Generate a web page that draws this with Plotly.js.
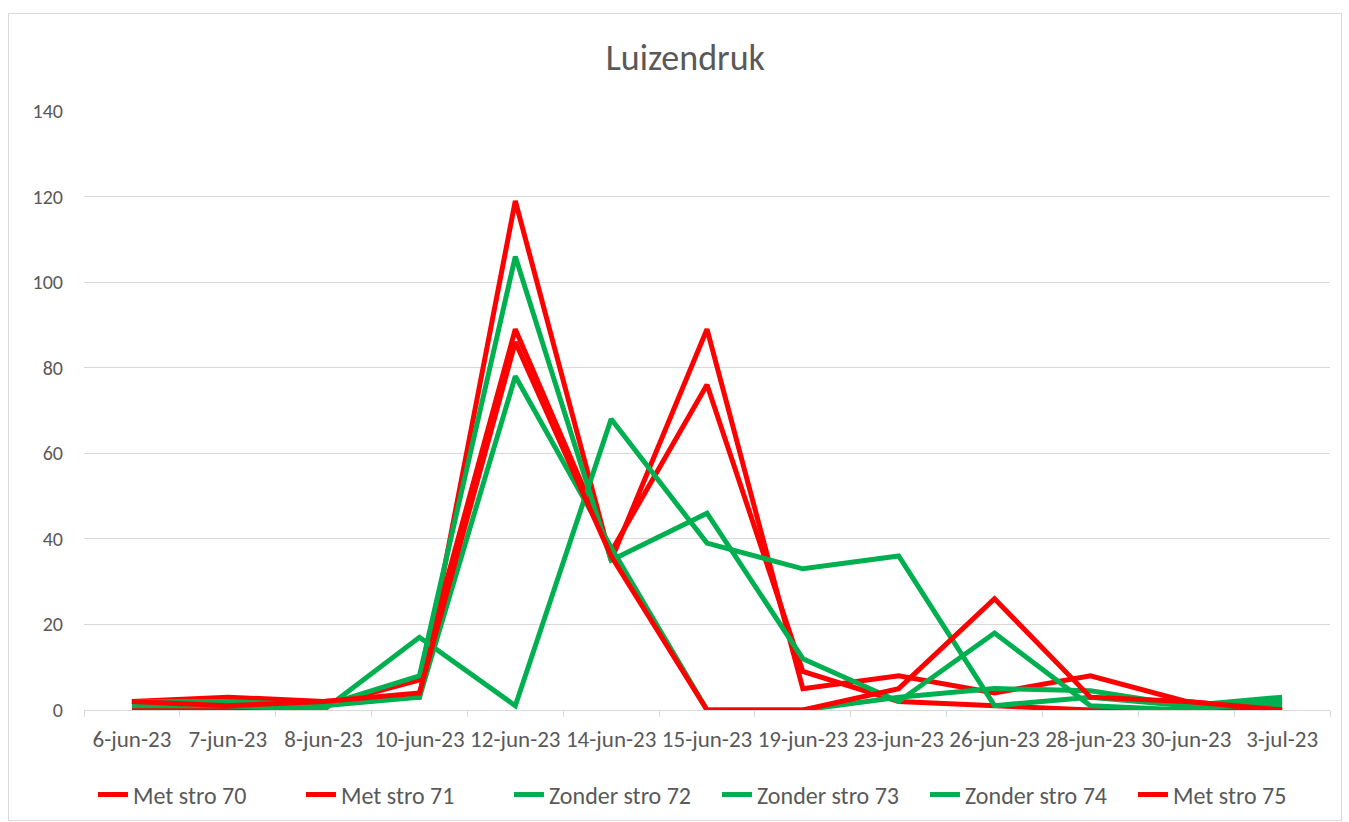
<!DOCTYPE html>
<html>
<head>
<meta charset="utf-8">
<script src="https://cdn.plot.ly/plotly-3.0.1.min.js"></script>
<style>
  html, body { margin: 0; padding: 0; background: #fff; }
  #chart { position: absolute; left: 0; top: 0; width: 1349px; height: 822px; }
  #frame { position: absolute; left: 8px; top: 13px; width: 1332px; height: 806px; border: 1px solid #d9d9d9; pointer-events: none; }
</style>
</head>
<body>
<div id="chart"></div>
<div id="frame"></div>
<script>
const dates = ["6-jun-23","7-jun-23","8-jun-23","10-jun-23","12-jun-23","14-jun-23","15-jun-23","19-jun-23","23-jun-23","26-jun-23","28-jun-23","30-jun-23","3-jul-23"];

const metStro70    = [2, 3, 2, 3, 119, 35, 89, 5, 8, 4, 8, 2, 0];
const metStro71    = [0, 0, 1, 7, 89, 37, 76, 9, 2, 1, 0, 0, 0];
const zonderStro72 = [2, 1, 0, 17, 1, 68, 39, 33, 36, 1, 3, 1, 1];
const zonderStro73 = [2, 2, 1, 8, 106, 35, 46, 12, 2, 18, 1, 0, 2];
const zonderStro74 = [1, 1, 1, 3, 78, 38, 0, 0, 3, 5, 4.5, 1, 3];
const metStro75    = [2, 1, 2, 4, 86, 36, 0, 0, 5, 26, 3, 2, 0];

const seriesNames = ["Met stro 70","Met stro 71","Zonder stro 72","Zonder stro 73","Zonder stro 74","Met stro 75"];
const seriesValues = [metStro70, metStro71, zonderStro72, zonderStro73, zonderStro74, metStro75];
const seriesColors = ["#FF0000","#FF0000","#00B050","#00B050","#00B050","#FF0000"];

const FONT = "Carlito, Calibri, 'Open Sans', 'Liberation Sans', sans-serif";

const traces = seriesNames.map((n, i) => ({
  type: "scatter",
  mode: "lines",
  name: n,
  x: dates,
  y: seriesValues[i],
  line: { color: seriesColors[i], width: 5 },
  hoverinfo: "x+y+name"
}));

const layout = {
  width: 1349,
  height: 822,
  paper_bgcolor: "#ffffff",
  plot_bgcolor: "#ffffff",
  margin: { l: 84, r: 19, t: 111, b: 112, autoexpand: false },
  title: {
    text: "Luizendruk",
    font: { family: FONT, size: 36, color: "#595959" },
    x: 0.508, xanchor: "center",
    y: 0.93, yanchor: "middle"
  },
  font: { family: FONT, size: 18, color: "#595959" },
  xaxis: {
    type: "category",
    range: [-0.5, 12.5],
    showgrid: false,
    showline: true,
    linecolor: "#d9d9d9",
    linewidth: 1,
    ticks: "outside",
    tickson: "boundaries",
    ticklen: 6,
    tickcolor: "#d9d9d9",
    ticklabelstandoff: 8,
    tickangle: 0,
    tickfont: { family: FONT, size: 23, color: "#595959" },
    zeroline: false
  },
  yaxis: {
    range: [0, 140],
    dtick: 20,
    tick0: 0,
    showgrid: true,
    gridcolor: "#d9d9d9",
    gridwidth: 1,
    showline: false,
    zeroline: false,
    ticks: "",
    ticklabelstandoff: 20,
    tickfont: { family: FONT, size: 20, color: "#595959" }
  },
  showlegend: true,
  legend: {
    orientation: "h",
    x: 0.508, xanchor: "center",
    yref: "container",
    y: 0.033, yanchor: "middle",
    font: { family: FONT, size: 24, color: "#595959" },
    entrywidth: 163,
    entrywidthmode: "pixels",
    traceorder: "normal"
  }
};

Plotly.newPlot("chart", traces, layout, { displayModeBar: false, staticPlot: true });
</script>
</body>
</html>
